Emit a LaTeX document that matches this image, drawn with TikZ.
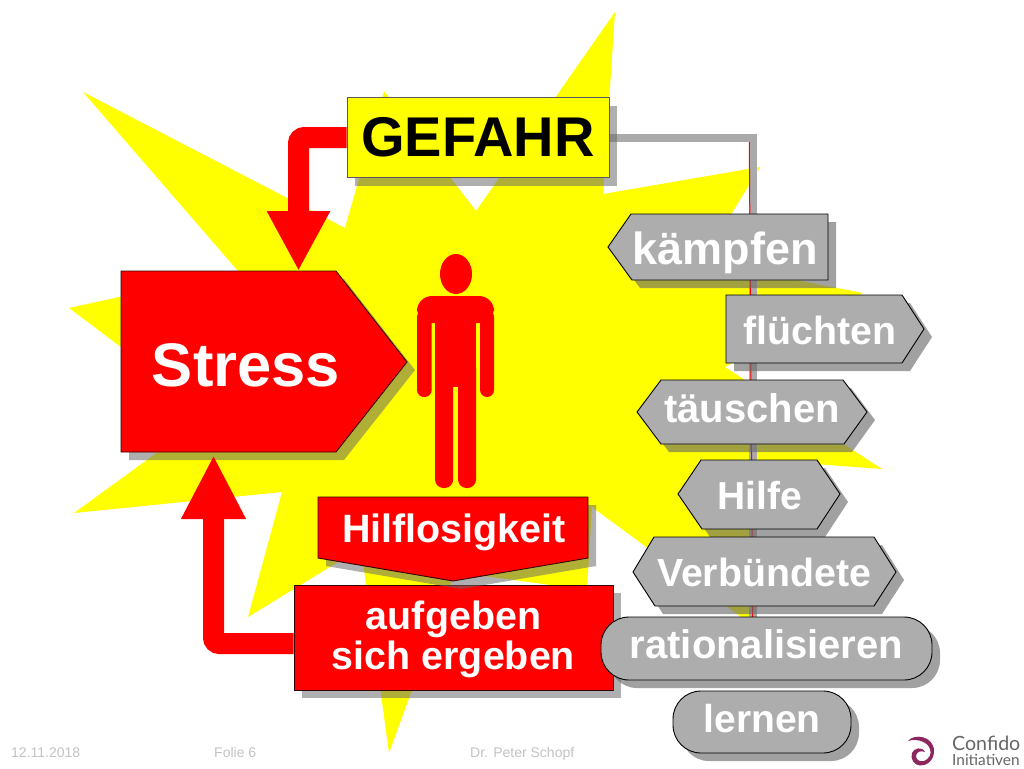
\documentclass[tikz,border=0pt]{standalone}
\usepackage{fontspec}
\setmainfont{Liberation Sans}
\newfontfamily\logofont{Lato}
\usetikzlibrary{arrows.meta,patterns.meta,shadows}
\definecolor{starY}{RGB}{255,255,0}
\definecolor{hotred}{RGB}{255,0,0}
\definecolor{barG}{RGB}{170,170,170}
\definecolor{meshG}{RGB}{158,158,158}
\definecolor{footG}{RGB}{195,195,195}
\definecolor{plum}{RGB}{140,40,95}
\definecolor{shadeG}{RGB}{104,104,104}
\pgfdeclarelayer{starlayer}
\pgfdeclarelayer{barlayer}
\pgfsetlayers{starlayer,barlayer,main}
\newcommand{\fs}[1]{\fontsize{#1}{#1}\selectfont\bfseries}
\tikzset{
  x=1pt,y=-1pt,
  softshadow/.style={fill=shadeG,opacity=.53,draw=none},
  meshshadow/.style={fill=shadeG,opacity=.62,draw=none},
  hardshadow/.style={drop shadow={shadow xshift=8pt,shadow yshift=-8pt,opacity=.53,fill=shadeG}},
  redshape/.style={fill=hotred,draw=black!80!red,line width=.9pt,line join=miter},
  meshshape/.style={preaction={fill=meshG},pattern={Dots[distance=2pt,radius=.55pt]},pattern color=white!88!black,draw=black,line width=.9pt},
  label/.style={anchor=base,inner sep=0pt,text=white},
  redarrow/.style={draw=hotred,line width=21pt,rounded corners=6pt},
  foot/.style={anchor=base west,inner sep=0pt,text=footG,font=\fontsize{14}{14}\selectfont},
  logotext/.style={anchor=base west,inner sep=0pt,text=black!60},
}
\newcommand{\shapewithshadow}[3]{%
  \path[#2,xshift=8pt,yshift=-8pt] #3;
  \path[#1] #3;}
\begin{document}
\begin{tikzpicture}
\useasboundingbox (0,0) rectangle (1024,768);

% explosion star
\begin{pgfonlayer}{starlayer}
\fill[white] (0,0) rectangle (1024,768);
\fill[starY] (615,12)--(603,194)--(760,167)--(702,262)--(863,293)--(725,367)--(882,469)
  --(760,460)--(752,625)--(592,507)--(587,590)--(455,572)--(389,753)--(361,548)
  --(248,617)--(282,492)--(74,513)--(210,414)--(69,308)--(238,271)--(83,92)
  --(345,228)--(384,91)--(476,211)--cycle;
\end{pgfonlayer}

% coordinates for connector ends
\coordinate (barend) at (753,640);
\coordinate (redtop) at (749.3,142);
\coordinate (redend) at (752.7,625);
\coordinate (stresstop) at (298.5,271);
\coordinate (stressbottom) at (213.5,455);

% GEFAHR
\node[hardshadow,fill=starY,draw=black!65,line width=.9pt,minimum width=262pt,minimum height=80pt,inner sep=0pt,font=\fs{56},text=black] (gefahr) at (478,137.5) {GEFAHR};

% Stress
\shapewithshadow{redshape}{softshadow}{(121,271)--(336,271)--(407,362)--(336,452)--(121,452)--cycle}
\node[label,font=\fs{61.5}] (stress) at (246,386) {Stress};

% person
\fill[hotred] (456,274) ellipse [x radius=16,y radius=20];
\fill[hotred,rounded corners=15pt] (417,323)--(417,296)--(494,296)--(494,323)--cycle;
\fill[hotred,rounded corners=7pt] (417,310) rectangle (431.7,397);
\fill[hotred,rounded corners=7pt] (480,310) rectangle (494,397);
\fill[hotred] (435,310) rectangle (476,387);
\fill[hotred,rounded corners=8.5pt] (435,360) rectangle (453.2,488);
\fill[hotred,rounded corners=8.5pt] (458,360) rectangle (476,488);

% aufgeben
\node[hardshadow,fill=hotred,draw=black!80!red,line width=.9pt,minimum width=319pt,minimum height=105pt,inner sep=0pt] (aufgeben) at (453.5,637.5) {};
\node[inner sep=0pt,text=white,font=\fontsize{39.4}{40}\selectfont\bfseries,align=center] (aufgebentext) at (453.5,639.5) {aufgeben\\sich ergeben};

% Hilflosigkeit
\shapewithshadow{redshape}{softshadow}{(318,497)--(588,497)--(588,558)--(453,581)--(318,558)--cycle}
\node[label,font=\fs{39.5}] (hilflos) at (454,542) {Hilflosigkeit};

% grey response shapes
\shapewithshadow{meshshape}{meshshadow}{(608,247)--(631,214)--(828,214)--(828,280)--(632,280)--cycle}
\node[label,font=\fs{45}] (kaempfen) at (725,264) {kämpfen};

\shapewithshadow{meshshape}{meshshadow}{(726,295)--(902,295)--(924,329)--(902,363)--(726,363)--cycle}
\node[label,font=\fs{39.3}] (fluechten) at (820,344) {flüchten};

\shapewithshadow{meshshape}{meshshadow}{(637,412)--(661,380)--(843,380)--(867,412)--(844,444)--(661,444)--cycle}
\node[label,font=\fs{40}] (taeuschen) at (752,422) {täuschen};

\shapewithshadow{meshshape}{meshshadow}{(678,494)--(701,460)--(817,460)--(840,494)--(817,529)--(702,529)--cycle}
\node[label,font=\fs{39}] (hilfe) at (759.5,509) {Hilfe};

\shapewithshadow{meshshape}{meshshadow}{(633,572)--(654,537)--(874,537)--(896,572)--(874,606)--(655,606)--cycle}
\node[label,font=\fs{39.3}] (verbuendete) at (764,586) {Verbündete};

\shapewithshadow{meshshape}{meshshadow}{[rounded corners=28pt] (601,617) rectangle (932,680)}
\node[label,font=\fs{40}] (rational) at (766.5,658) {rationalisieren};

\shapewithshadow{meshshape}{meshshadow}{[rounded corners=28pt] (673,691) rectangle (851,753)}
\node[label,font=\fs{39}] (lernen) at (762,732) {lernen};

% connectors
\begin{pgfonlayer}{barlayer}
\draw[barG,line width=8pt] (gefahr.east) -| (barend);
\draw[hotred,line width=1pt] (redtop) -- (redend);
\end{pgfonlayer}
\draw[redarrow,-{Triangle[length=60pt,width=59pt]}] (gefahr.west) -| (stresstop);
\draw[redarrow,-{Triangle[length=64pt,width=60pt]}] ([yshift=-6pt]aufgeben.west) -| (stressbottom);

% footer
\node[foot] (date) at (11,757) {12.11.2018};
\node[foot] (folie) at (214,757) {Folie 6};
\node[foot] (autor) at (470,757) {Dr. Peter Schopf};

% logo
\fill[plum] (908,741) .. controls (914,733) and (934,736) .. (934,751)
  .. controls (934,761) and (926,766) .. (920,765.5)
  .. controls (914,765) and (910,759) .. (912,753)
  .. controls (914,748) and (922,746) .. (925,752)
  .. controls (921,750) and (916,752) .. (916,756)
  .. controls (916,760) and (920,762) .. (924,761)
  .. controls (929,759) and (932,754) .. (930,749)
  .. controls (928,742) and (917,738) .. (908,741) -- cycle;
\node[logotext,font=\logofont\fontsize{19.6}{19.6}\selectfont] (confido) at (952,750) {Confido};
\node[logotext,font=\logofont\fontsize{15.4}{15.4}\selectfont] (initiativen) at (952,765) {Initiativen};
\end{tikzpicture}
\end{document}
